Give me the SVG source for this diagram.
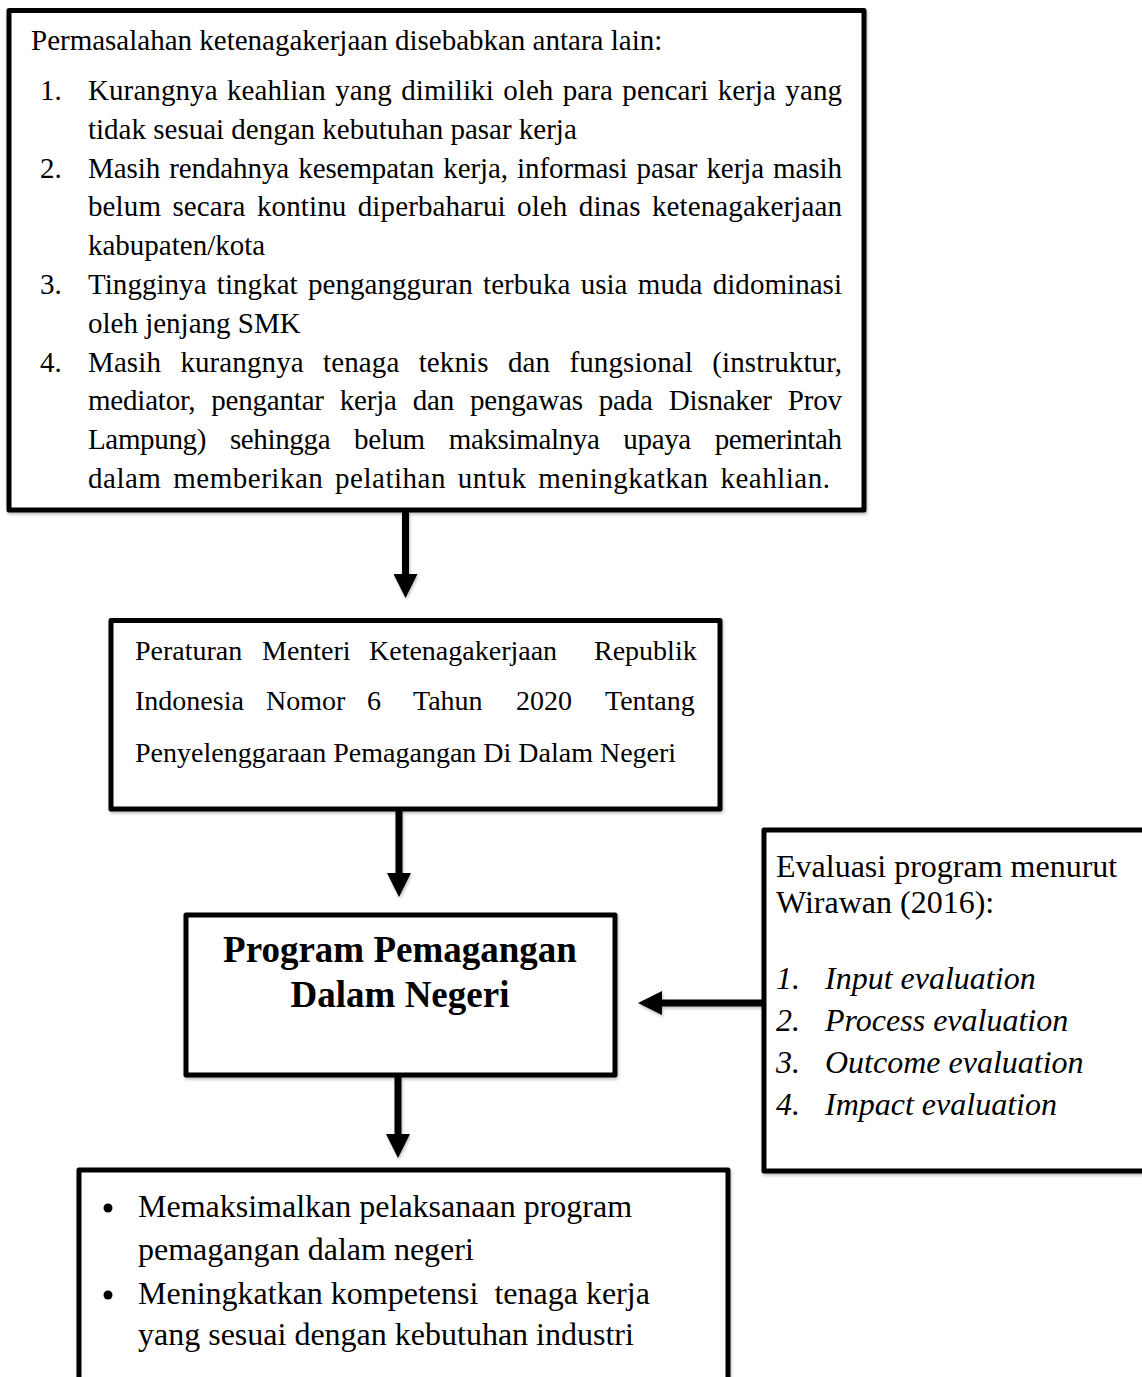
<svg xmlns="http://www.w3.org/2000/svg" width="1142" height="1377" viewBox="0 0 1142 1377">
<style>
.box{fill:#fff;stroke:#000;stroke-width:5;stroke-linejoin:round}
.t{font-family:"Liberation Serif","Times New Roman",serif;fill:#000}
.t1{font-size:29px}
.t2{font-size:28px}
.t3{font-size:37px;font-weight:bold}
.t4{font-size:32px}
.t5{font-size:32px}
.it{font-style:italic}
.conn{stroke:#000;stroke-width:7;fill:none}
</style>
<defs>
<filter id="sh" x="-10%" y="-10%" width="130%" height="130%">
<feDropShadow dx="1" dy="2" stdDeviation="1.5" flood-color="#000" flood-opacity="0.25"/>
</filter>
<marker id="ah" markerUnits="userSpaceOnUse" markerWidth="24" markerHeight="24" refX="0" refY="12" orient="auto">
<path d="M0,0 L24,12 L0,24 Z" fill="#000"/>
</marker>
</defs>

<g id="connectors" filter="url(#sh)">
<line class="conn" x1="405.5" y1="512" x2="405.5" y2="574" marker-end="url(#ah)"/>
<line class="conn" x1="399" y1="811" x2="399" y2="873" marker-end="url(#ah)"/>
<line class="conn" x1="398" y1="1077" x2="398" y2="1134" marker-end="url(#ah)"/>
<line class="conn" x1="762" y1="1003" x2="662" y2="1003" marker-end="url(#ah)"/>
</g>

<g id="node-masalah">
<rect class="box" x="9" y="10.5" width="855" height="499.5" filter="url(#sh)"/>
<text class="t t1" x="31" y="50">Permasalahan ketenagakerjaan disebabkan antara lain:</text>
<text class="t t1" x="40" y="100">1.</text>
<text class="t t1" x="88" y="100" word-spacing="2" textLength="754" lengthAdjust="spacing">Kurangnya keahlian yang dimiliki oleh para pencari kerja yang</text>
<text class="t t1" x="88" y="138.8">tidak sesuai dengan kebutuhan pasar kerja</text>
<text class="t t1" x="40" y="177.6">2.</text>
<text class="t t1" x="88" y="177.6" word-spacing="2" textLength="754" lengthAdjust="spacing">Masih rendahnya kesempatan kerja, informasi pasar kerja masih</text>
<text class="t t1" x="88" y="216.4" word-spacing="4" textLength="754" lengthAdjust="spacing">belum secara kontinu diperbaharui oleh dinas ketenagakerjaan</text>
<text class="t t1" x="88" y="255.2">kabupaten/kota</text>
<text class="t t1" x="40" y="294">3.</text>
<text class="t t1" x="88" y="294" word-spacing="3" textLength="754" lengthAdjust="spacing">Tingginya tingkat pengangguran terbuka usia muda didominasi</text>
<text class="t t1" x="88" y="332.8">oleh jenjang SMK</text>
<text class="t t1" x="40" y="371.6">4.</text>
<text class="t t1" x="88" y="371.6" word-spacing="12" textLength="754" lengthAdjust="spacing">Masih kurangnya tenaga teknis dan fungsional (instruktur,</text>
<text class="t t1" x="88" y="410.4" word-spacing="9" textLength="754" lengthAdjust="spacing">mediator, pengantar kerja dan pengawas pada Disnaker Prov</text>
<text class="t t1" x="88" y="449.2" word-spacing="17" textLength="754" lengthAdjust="spacing">Lampung) sehingga belum maksimalnya upaya pemerintah</text>
<text class="t t1" x="88" y="488" word-spacing="4" textLength="742" lengthAdjust="spacing">dalam memberikan pelatihan untuk meningkatkan keahlian.</text>
</g>

<g id="node-peraturan">
<rect class="box" x="111" y="620.5" width="609" height="188.5" filter="url(#sh)"/>
<text class="t t2" y="660"><tspan x="135">Peraturan</tspan><tspan x="262">Menteri</tspan><tspan x="369">Ketenagakerjaan</tspan><tspan x="594">Republik</tspan></text>
<text class="t t2" y="710"><tspan x="135">Indonesia</tspan><tspan x="266">Nomor</tspan><tspan x="367">6</tspan><tspan x="413">Tahun</tspan><tspan x="516">2020</tspan><tspan x="605">Tentang</tspan></text>
<text class="t t2" x="135" y="762">Penyelenggaraan Pemagangan Di Dalam Negeri</text>
</g>

<g id="node-program">
<rect class="box" x="186" y="915" width="429" height="160" filter="url(#sh)"/>
<text class="t t3" x="400" y="962" text-anchor="middle">Program Pemagangan</text>
<text class="t t3" x="400" y="1007" text-anchor="middle">Dalam Negeri</text>
</g>

<g id="node-evaluasi">
<rect class="box" x="764" y="830" width="390" height="341" filter="url(#sh)"/>
<text class="t t4" x="776" y="877">Evaluasi program menurut</text>
<text class="t t4" x="776" y="913">Wirawan (2016):</text>
<text class="t t4 it" x="776" y="989">1.</text>
<text class="t t4 it" x="825" y="989">Input evaluation</text>
<text class="t t4 it" x="776" y="1031">2.</text>
<text class="t t4 it" x="825" y="1031">Process evaluation</text>
<text class="t t4 it" x="776" y="1073">3.</text>
<text class="t t4 it" x="825" y="1073">Outcome evaluation</text>
<text class="t t4 it" x="776" y="1115">4.</text>
<text class="t t4 it" x="825" y="1115">Impact evaluation</text>
</g>

<g id="node-tujuan">
<rect class="box" x="79" y="1170" width="649" height="240" filter="url(#sh)"/>
<circle cx="108" cy="1208" r="4.5" fill="#000"/>
<text class="t t5" x="138" y="1217">Memaksimalkan pelaksanaan program</text>
<text class="t t5" x="138" y="1260">pemagangan dalam negeri</text>
<circle cx="108" cy="1295" r="4.5" fill="#000"/>
<text class="t t5" x="138" y="1304" xml:space="preserve">Meningkatkan kompetensi  tenaga kerja</text>
<text class="t t5" x="138" y="1345">yang sesuai dengan kebutuhan industri</text>
</g>
</svg>
